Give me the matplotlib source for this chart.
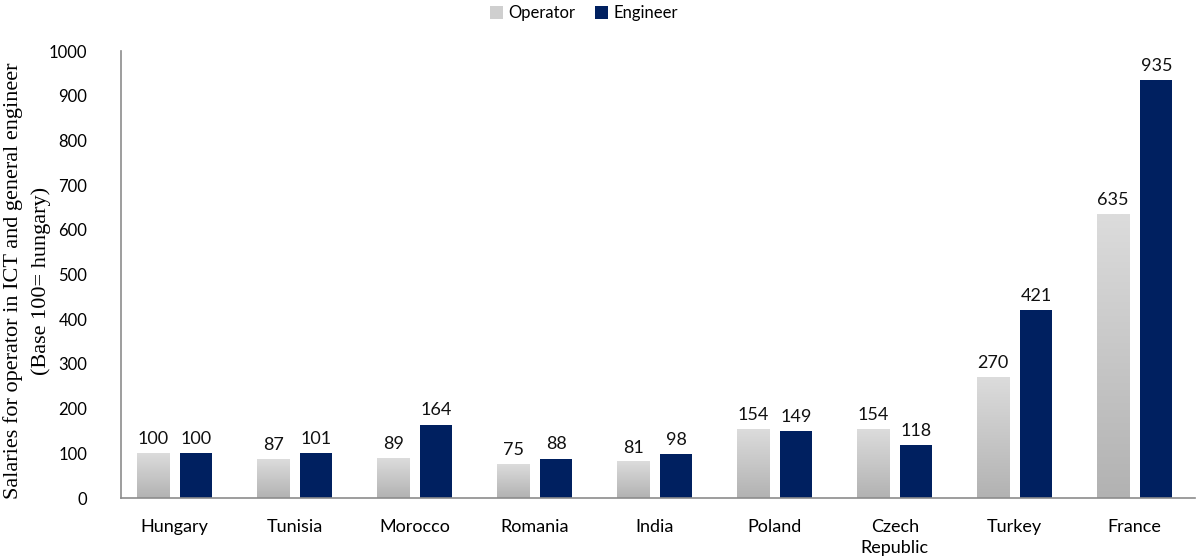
import numpy as np
import matplotlib.pyplot as plt
from matplotlib.patches import Patch
from matplotlib.colors import LinearSegmentedColormap

countries = ["Hungary", "Tunisia", "Morocco", "Romania", "India",
             "Poland", "Czech\nRepublic", "Turkey", "France"]
operator = [100, 87, 89, 75, 81, 154, 154, 270, 635]
engineer = [100, 101, 164, 88, 98, 149, 118, 421, 935]

navy = "#002060"
w = 0.267
off = 0.18

fig = plt.figure(figsize=(11.96, 5.58), dpi=100)
ax = fig.add_axes([0.101, 0.1075, 0.898, 0.8011])

x = np.arange(len(countries))

# gradient for the operator bars (light at top, darker at bottom)
grad = np.linspace(0, 1, 256).reshape(-1, 1)
gcmap = LinearSegmentedColormap.from_list("g", ["#b2b2b2", "#dcdcdc"])
for xi, v in zip(x, operator):
    ax.imshow(grad, cmap=gcmap, origin="lower", aspect="auto",
              extent=[xi - off - w / 2, xi - off + w / 2, 0, v], zorder=2)
    ax.text(xi - off, v + 14, str(v), ha="center", va="bottom",
            fontsize=13, family="Lato", color="#111111")

ax.bar(x + off, engineer, width=w, color=navy, zorder=2)
for xi, v in zip(x, engineer):
    ax.text(xi + off, v + 14, str(v), ha="center", va="bottom",
            fontsize=13, family="Lato", color="#111111")

ax.set_xlim(-0.45, 8.5)
ax.set_ylim(0, 1000)
ax.set_yticks(range(0, 1001, 100))
ax.set_xticks(x)
ax.set_xticklabels(countries, family="Lato", fontsize=13, linespacing=1.4)
for lab in ax.get_yticklabels():
    lab.set_family("Lato")
    lab.set_fontsize(12)
ax.tick_params(axis="both", length=0)
ax.tick_params(axis="y", pad=24)
ax.tick_params(axis="x", pad=15)

for s in ["top", "right"]:
    ax.spines[s].set_visible(False)
for s in ["left", "bottom"]:
    ax.spines[s].set_color("#8c8c8c")
    ax.spines[s].set_linewidth(1.2)

fig.text(0.011, 0.497, "Salaries for operator in ICT and general engineer",
         rotation=90, ha="center", va="center", family="Liberation Serif", fontsize=16)
fig.text(0.034, 0.497, "(Base 100= hungary)",
         rotation=90, ha="center", va="center", family="Liberation Serif", fontsize=16)

handles = [Patch(facecolor="#cfcfcf", label="Operator"),
           Patch(facecolor=navy, label="Engineer")]
fig.legend(handles=handles, loc="upper center", bbox_to_anchor=(0.488, 1.018),
           ncol=2, frameon=False, prop={"family": "Lato", "size": 12},
           handlelength=0.8, handleheight=0.8, handletextpad=0.3, columnspacing=1.2)

fig.savefig("out.png", dpi=100)
